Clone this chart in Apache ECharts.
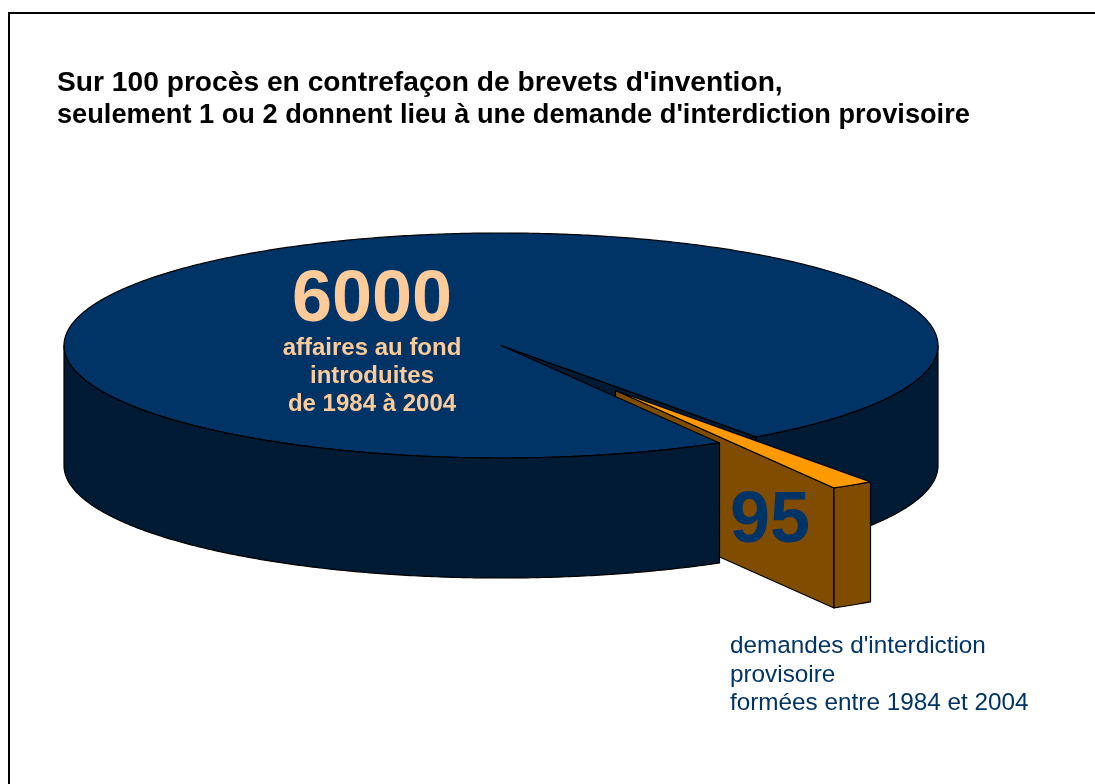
<!DOCTYPE html>
<html><head><meta charset="utf-8">
<style>html,body{margin:0;padding:0;background:#fff}#c{width:1095px;height:784px}</style>
<script src="https://cdn.jsdelivr.net/npm/echarts@6/dist/echarts.min.js"></script>
</head><body><div id="c"></div>
<script>
const categories = ["affaires au fond", "demandes d'interdiction provisoire"];
const values = [6000, 95];
const titleLines = ["Sur 100 procès en contrefaçon de brevets d'invention,", "seulement 1 ou 2 donnent lieu à une demande d'interdiction provisoire"];
const mainLabel = ["affaires au fond", "introduites", "de 1984 à 2004"];
const sliceLabel = ["demandes d'interdiction", "provisoire", "formées entre 1984 et 2004"];

const FONT = '"Liberation Sans", Arial, sans-serif';
const NAVY = '#003366', DARK = '#001B33', ORANGE = '#FF9900', BROWN = '#804C00', PEACH = '#FFCC99';
const cx = 501, cy = 345.5, rx = 437, ry = 112.5, depth = 120;
const dx = 114.5, dy = 45, startDeg = 54.3;

const spanDeg = values[1] / values[0] * 360;
const endDeg = startDeg + spanDeg;
const pt = (deg, ox, oy) => {
  const t = deg * Math.PI / 180;
  return [cx + (ox || 0) + rx * Math.cos(t), cy + (oy || 0) + ry * Math.sin(t)];
};
const arc = (a, b, ox, oy) => {
  const out = [], n = Math.max(2, Math.ceil(Math.abs(b - a) * 2));
  for (let i = 0; i <= n; i++) out.push(pt(a + (b - a) * i / n, ox, oy));
  return out;
};
const down = (p) => [p[0], p[1] + depth];
const poly = (points, fill, z2) => ({
  type: 'polygon', z2, shape: { points },
  style: { fill, stroke: '#000', lineWidth: 1.2, lineJoin: 'round' }
});
const wall = (a, b, ox, oy, fill, z2) => {
  const top = arc(a, b, ox, oy);
  return poly(top.concat(top.slice().reverse().map(down)), fill, z2);
};

function renderItem(params) {
  const children = [];
  if (params.dataIndex === 0) {
    const c = [cx, cy];
    children.push(wall(0, startDeg, 0, 0, DARK, 1));
    children.push(poly([c, pt(startDeg), down(pt(startDeg)), down(c)], DARK, 2));
    children.push(poly([c, pt(startDeg), pt(endDeg)], DARK, 2));
    children.push(poly([c].concat(arc(endDeg, startDeg + 360)), NAVY, 4));
    children.push(wall(endDeg, 180, 0, 0, DARK, 4));
  } else {
    const c = [cx + dx, cy + dy], near = pt(endDeg, dx, dy);
    children.push(poly([c, near, down(near), down(c)], BROWN, 3));
    children.push(wall(startDeg, endDeg, dx, dy, BROWN, 5));
    children.push(poly([c].concat(arc(startDeg, endDeg, dx, dy)), ORANGE, 5));
  }
  return { type: 'group', children };
}

const txt = (text, x, y, size, bold, fill, align) => ({
  type: 'text', z: 100, x, y,
  style: { text, fill, font: (bold ? 'bold ' : '') + size + 'px ' + FONT, textAlign: align || 'left', textVerticalAlign: 'middle' }
});

const graphics = [
  { type: 'polyline', z: 100, shape: { points: [[9, 784], [9, 13], [1095, 13]] }, style: { stroke: '#000', lineWidth: 2, fill: null } },
  txt(titleLines[0], 57, 83, 28.2, true, '#000'),
  txt(titleLines[1], 57, 116, 27.2, true, '#000'),
  txt(String(values[0]), 372, 301, 72, true, PEACH, 'center'),
  txt(String(values[1]), 770, 522, 72, true, NAVY, 'center'),
  txt(mainLabel[0], 372, 348, 24, true, PEACH, 'center'),
  txt(mainLabel[1], 372, 376, 24, true, PEACH, 'center'),
  txt(mainLabel[2], 372, 404, 24, true, PEACH, 'center'),
  txt(sliceLabel[0], 730, 646, 24.3, false, NAVY),
  txt(sliceLabel[1], 730, 675, 24.3, false, NAVY),
  txt(sliceLabel[2], 730, 703, 24.3, false, NAVY)
];

const chart = echarts.init(document.getElementById('c'), null, { renderer: 'canvas' });
chart.setOption({
  animation: false,
  backgroundColor: '#fff',
  graphic: graphics,
  series: [{
    type: 'custom',
    coordinateSystem: 'none',
    renderItem,
    silent: true,
    data: categories.map((name, i) => ({ name, value: values[i] }))
  }]
});
</script></body></html>
